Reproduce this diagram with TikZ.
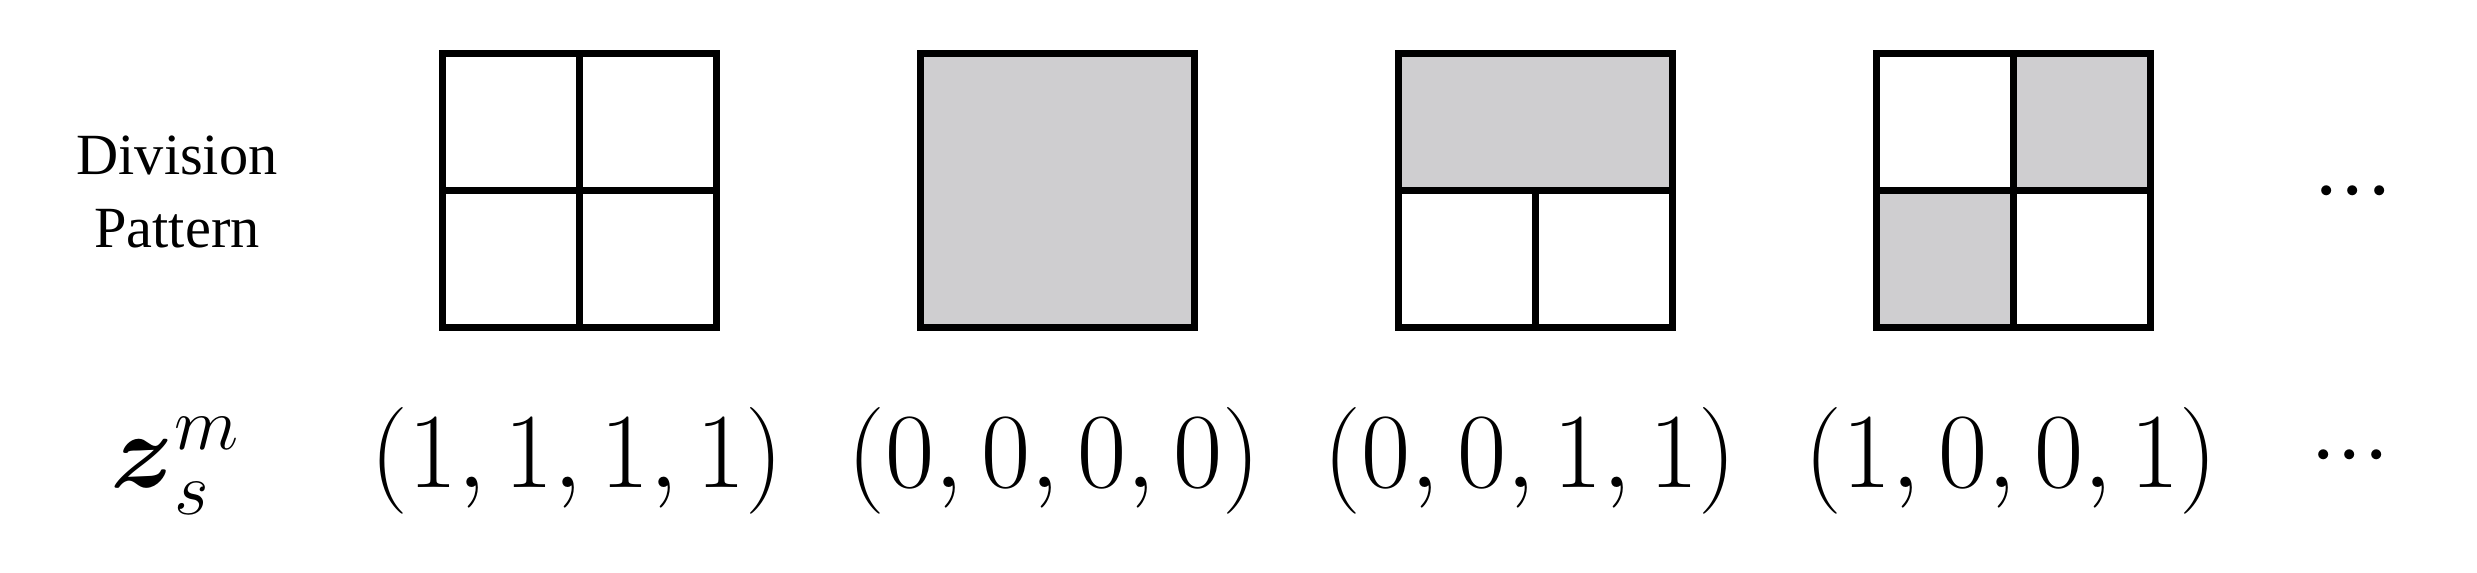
\RequirePackage{fix-cm}
\documentclass[tikz,border=0pt]{standalone}
\usepackage{amsmath}
\usepackage{amssymb}
\usepackage[no-math]{fontspec}
\usepackage{tikz}
\newfontfamily\labelfont{Liberation Serif}
\definecolor{cellgray}{RGB}{207,206,208}

\begin{document}
\begin{tikzpicture}[x=1cm,y=1cm,
    grid/.style={black, line width=0.07cm},
    tuple/.style={anchor=base, inner sep=0pt, font=\fontsize{30.4}{36}\selectfont},
    more/.style={anchor=base, inner sep=0pt, font=\fontsize{27}{32}\selectfont}]
    \useasboundingbox (0,0) rectangle (24.77,-5.73);
    \node[align=center, inner sep=0pt, font=\labelfont\fontsize{16.6}{20.5}\selectfont] (label) at (1.77,-1.92) {Division\\Pattern};
    % pattern 1: four cells
    \draw[grid] (4.42,-0.537) rectangle (7.16,-3.277);
    \draw[grid] (5.79,-0.537) -- (5.79,-3.277);
    \draw[grid] (4.42,-1.907) -- (7.16,-1.907);
    % pattern 2: one cell
    \filldraw[grid, fill=cellgray] (9.20,-0.537) rectangle (11.94,-3.277);
    % pattern 3: top merged
    \fill[cellgray] (13.98,-0.537) rectangle (16.72,-1.907);
    \draw[grid] (13.98,-0.537) rectangle (16.72,-3.277);
    \draw[grid] (13.98,-1.907) -- (16.72,-1.907);
    \draw[grid] (15.35,-1.907) -- (15.35,-3.277);
    % pattern 4: diagonal cells
    \fill[cellgray] (20.13,-0.537) rectangle (21.50,-1.907);
    \fill[cellgray] (18.76,-1.907) rectangle (20.13,-3.277);
    \draw[grid] (18.76,-0.537) rectangle (21.50,-3.277);
    \draw[grid] (20.13,-0.537) -- (20.13,-3.277);
    \draw[grid] (18.76,-1.907) -- (21.50,-1.907);
    \node[more] (dotsA) at (23.53,-2.15) {$\cdotp\!\cdotp\!\cdotp$};
    % codes
    \node[tuple] (zsm) at (1.75,-4.88) {$\boldsymbol{z}_s^m$};
    \node[tuple] (codeA) at (5.77,-4.88) {$(1,1,1,1)$};
    \node[tuple] (codeB) at (10.54,-4.88) {$(0,0,0,0)$};
    \node[tuple] (codeC) at (15.30,-4.88) {$(0,0,1,1)$};
    \node[tuple] (codeD) at (20.11,-4.88) {$(1,0,0,1)$};
    \node[more] (dotsB) at (23.50,-4.79) {$\cdotp\!\cdotp\!\cdotp$};
\end{tikzpicture}
\end{document}
